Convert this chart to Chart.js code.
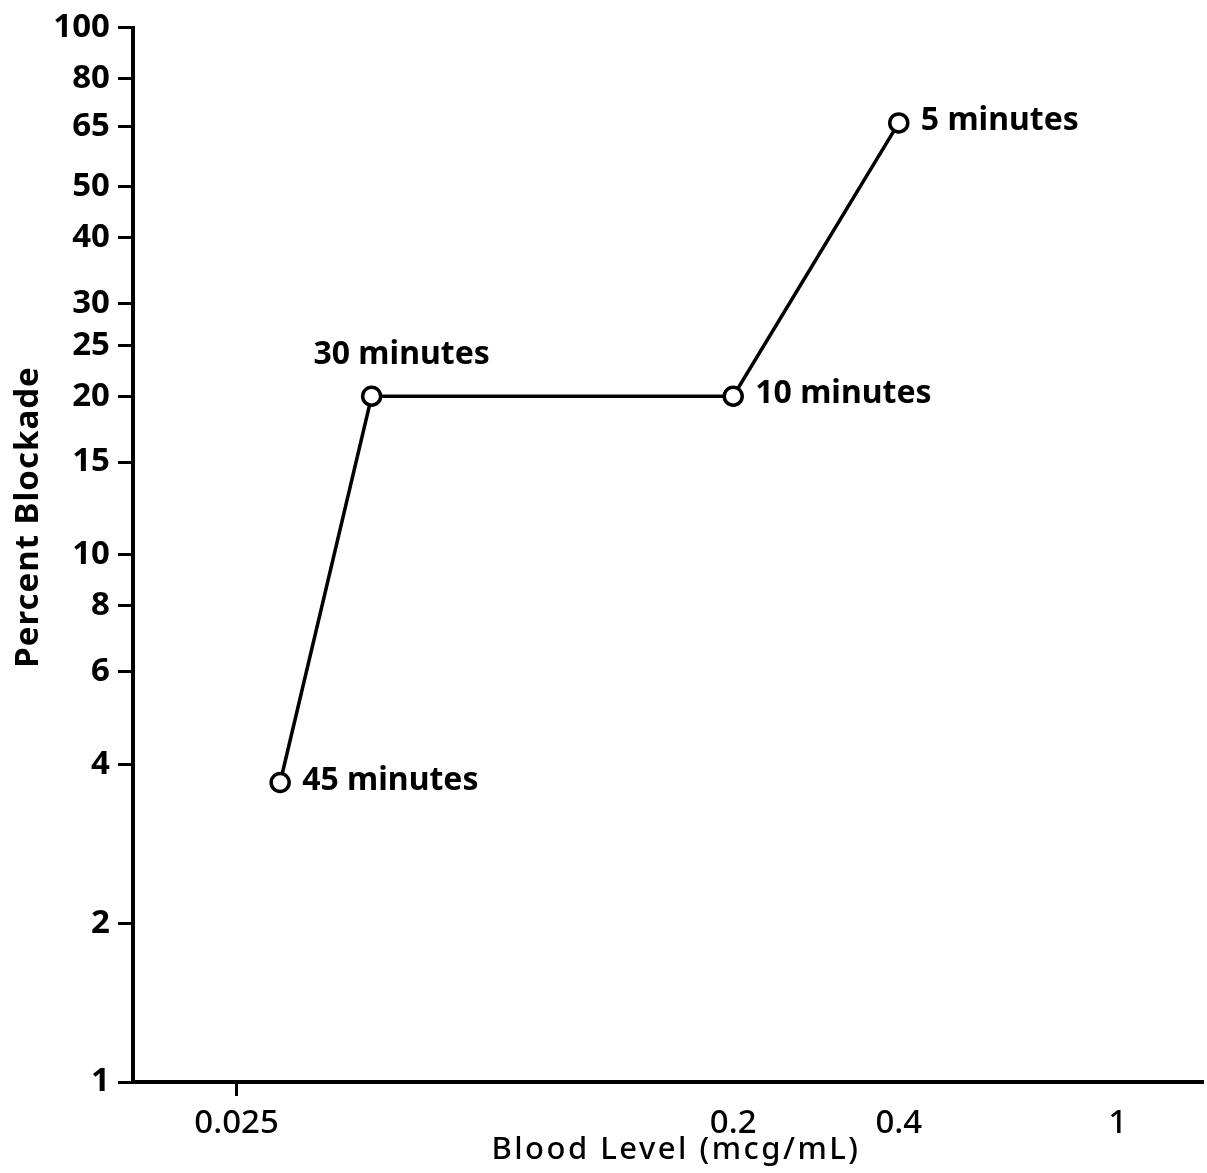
<!DOCTYPE html>
<html>
<head>
<meta charset="utf-8">
<script src="https://cdn.jsdelivr.net/npm/chart.js@4/dist/chart.umd.min.js"></script>
<style>
  body { margin: 0; background: #fff; }
  #wrap { width: 1207px; height: 1173px; }
</style>
</head>
<body>
<div id="wrap"><canvas id="blockadeChart" width="1207" height="1173"></canvas></div>
<script>
// blood level (mcg/mL) and percent blockade at each sampling time
const bloodLevel = [0.03, 0.044, 0.2, 0.4];
const blockade = [3.7, 20, 20, 66];
const sampleTimes = ["45 minutes", "30 minutes", "10 minutes", "5 minutes"];
// where each time label sits next to its point
const labelSide = ["right", "above", "right", "right"];

const xTicks = [0.025, 0.2, 0.4, 1];
const yTicks = [1, 2, 4, 6, 8, 10, 15, 20, 25, 30, 40, 50, 65, 80, 100];

const FONT = "'Noto Sans', 'DejaVu Sans', sans-serif";

// time labels beside the points + the two axis titles
const textPlugin = {
  id: "textPlugin",
  afterDatasetsDraw(chart) {
    const ctx = chart.ctx;
    const area = chart.chartArea;
    const meta = chart.getDatasetMeta(0);
    ctx.save();
    ctx.fillStyle = "#000";
    ctx.font = "bold 32px " + FONT;
    ctx.textBaseline = "middle";
    meta.data.forEach((pt, i) => {
      if (labelSide[i] === "above") {
        ctx.textAlign = "center";
        ctx.fillText(sampleTimes[i], pt.x + 30, pt.y - 41);
      } else {
        ctx.textAlign = "left";
        ctx.fillText(sampleTimes[i], pt.x + 22, pt.y - 2);
      }
    });

    // y title
    ctx.save();
    ctx.translate(38, 517);
    ctx.rotate(-Math.PI / 2);
    ctx.textAlign = "center";
    ctx.textBaseline = "alphabetic";
    ctx.font = "bold 33px " + FONT;
    ctx.letterSpacing = "1px";
    ctx.fillText("Percent Blockade", 0, 0);
    ctx.restore();

    // x title
    ctx.textAlign = "center";
    ctx.textBaseline = "alphabetic";
    ctx.font = "500 31px " + FONT;
    ctx.letterSpacing = "2.5px";
    ctx.fillText("Blood Level (mcg/mL)", (area.left + area.right) / 2 + 8, 1159);
    ctx.restore();
  }
};

const ctx = document.getElementById("blockadeChart").getContext("2d");
const blockadeChart = new Chart(ctx, {
  type: "line",
  data: {
    datasets: [
      {
        label: "Blockade",
        data: bloodLevel.map((x, i) => ({ x: x, y: blockade[i] })),
        borderColor: "#000",
        borderWidth: 3.5,
        tension: 0,
        pointRadius: 9,
        pointBorderWidth: 3.5,
        pointBackgroundColor: "#fff",
        pointBorderColor: "#000",
        clip: false
      }
    ]
  },
  options: {
    responsive: false,
    animation: false,
    layout: { autoPadding: false, padding: { left: 0, top: 25, right: 4, bottom: 0 } },
    plugins: {
      legend: { display: false },
      tooltip: { enabled: false }
    },
    scales: {
      x: {
        type: "logarithmic",
        min: 0.0162,
        max: 1.43,
        afterBuildTicks: (scale) => { scale.ticks = xTicks.map(v => ({ value: v })); },
        afterFit: (scale) => { scale.height = 91; },
        border: { color: "#000", width: 4 },
        grid: {
          drawOnChartArea: false,
          tickLength: 14,
          tickWidth: 3,
          // only the first value has a tick mark
          tickColor: (c) => (c.tick && c.tick.value === 0.025 ? "#000" : "rgba(0,0,0,0)")
        },
        ticks: {
          color: "#000",
          padding: 8,
          maxRotation: 0,
          autoSkip: false,
          font: { family: FONT, size: 33, weight: 500 },
          callback: (v) => String(v)
        }
      },
      y: {
        type: "logarithmic",
        min: 1,
        max: 100,
        afterBuildTicks: (scale) => { scale.ticks = yTicks.map(v => ({ value: v })); },
        afterFit: (scale) => { scale.width = 133; },
        border: { color: "#000", width: 4 },
        grid: {
          drawOnChartArea: false,
          tickLength: 15,
          tickWidth: 3,
          tickColor: "#000"
        },
        ticks: {
          color: "#000",
          padding: 8,
          autoSkip: false,
          font: { family: FONT, size: 33, weight: "bold" },
          callback: (v) => String(v)
        }
      }
    }
  },
  plugins: [textPlugin]
});
</script>
</body>
</html>
